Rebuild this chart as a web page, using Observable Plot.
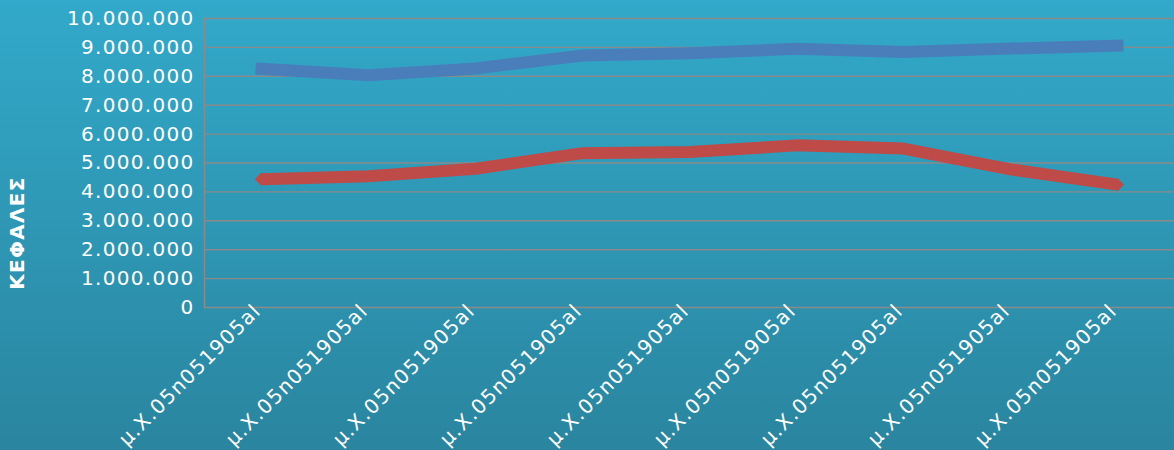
<!DOCTYPE html>
<html>
<head>
<meta charset="utf-8">
<script src="https://cdn.jsdelivr.net/npm/d3@7"></script>
<script src="https://cdn.jsdelivr.net/npm/@observablehq/plot@0.6"></script>
<style>
  html, body { margin: 0; padding: 0; }
  body { width: 1174px; height: 450px; background: linear-gradient(to bottom, #32a9ca 0%, #2a859f 100%); overflow: hidden; }
  #chart svg { display: block; }
</style>
</head>
<body>
<div id="chart"></div>
<script>
const categories = ["μ.Χ.05n051905al","μ.Χ.05n051905al","μ.Χ.05n051905al","μ.Χ.05n051905al","μ.Χ.05n051905al","μ.Χ.05n051905al","μ.Χ.05n051905al","μ.Χ.05n051905al","μ.Χ.05n051905al"];
const seriesBlue = [8260000, 8040000, 8270000, 8720000, 8800000, 8950000, 8840000, 8960000, 9060000];
const seriesRed  = [4440000, 4540000, 4800000, 5340000, 5380000, 5610000, 5500000, 4780000, 4250000];
const yTicks = [0, 1000000, 2000000, 3000000, 4000000, 5000000, 6000000, 7000000, 8000000, 9000000, 10000000];
const yLabel = "ΚΕΦΑΛΕΣ";

const idx = d3.range(categories.length);
const blueData = idx.map(i => ({i, v: seriesBlue[i]}));
const redData = idx.map(i => ({i, v: seriesRed[i]}));
const redEnds = [redData[0], redData[redData.length - 1]];
const fmt = d => d3.format(",")(d).replace(/,/g, ".");

const chart = Plot.plot({
  width: 1174,
  height: 450,
  marginLeft: 204,
  marginRight: 0,
  marginTop: 18,
  marginBottom: 143,
  style: { background: "transparent", color: "white", fontFamily: "'DejaVu Sans', sans-serif", fontSize: "20px", letterSpacing: "1.3px" },
  x: { type: "point", domain: idx, padding: 0.5, align: 0.5 },
  y: { domain: [0, 10000000] },
  marks: [
    Plot.gridY(yTicks, { stroke: "#8a8a8a", strokeOpacity: 1, strokeWidth: 1.4 }),
    Plot.frame({ anchor: "left", stroke: "#8a8a8a", strokeWidth: 1.4 }),
    Plot.axisY({ ticks: yTicks, tickSize: 0, tickPadding: 10, tickFormat: fmt, label: null }),
    Plot.axisX({ tickSize: 0, tickPadding: 0, tickRotate: -45, tickFormat: i => categories[i], label: null, dx: -4, fontSize: 20, style: { letterSpacing: "0.9px" } }),
    Plot.lineY(blueData, { x: "i", y: "v", stroke: "#4a7ebb", strokeWidth: 12, strokeLinecap: "square", strokeLinejoin: "round" }),
    Plot.lineY(redData, { x: "i", y: "v", stroke: "#be4b48", strokeWidth: 12, strokeLinecap: "butt", strokeLinejoin: "round" }),
    Plot.dot(redEnds, { x: "i", y: "v", symbol: "diamond2", r: 6, fill: "#be4b48", stroke: "none" }),
    Plot.text([yLabel], { frameAnchor: "left", dx: -187, dy: 70, rotate: -90, fontWeight: "bold", fontSize: 20, fill: "white", textAnchor: "middle" })
  ]
});
document.getElementById("chart").appendChild(chart);
</script>
</body>
</html>
